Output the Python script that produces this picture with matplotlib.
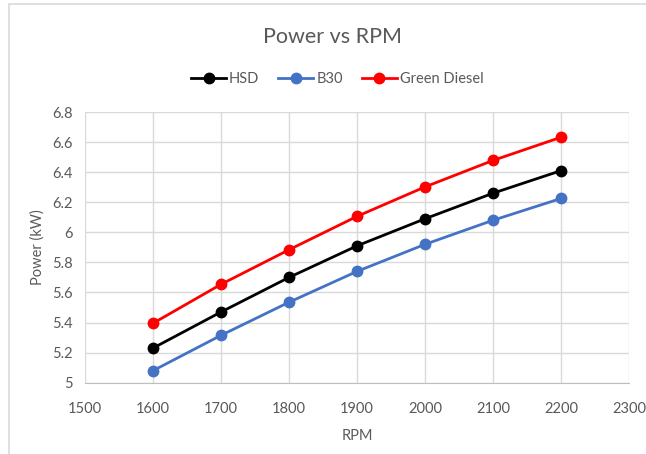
import matplotlib.pyplot as plt
from matplotlib.patches import Rectangle
from matplotlib.ticker import FuncFormatter

plt.rcParams['font.family'] = ['Lato', 'DejaVu Sans']

rpm = [1600, 1700, 1800, 1900, 2000, 2100, 2200]
hsd = [5.23, 5.47, 5.70, 5.91, 6.09, 6.26, 6.41]
b30 = [5.08, 5.315, 5.535, 5.74, 5.92, 6.08, 6.225]
green_diesel = [5.395, 5.654, 5.884, 6.106, 6.302, 6.478, 6.632]

series = [('HSD', hsd, '#000000'),
          ('B30', b30, '#4472C4'),
          ('Green Diesel', green_diesel, '#FF0000')]

grey = '#595959'

fig = plt.figure(figsize=(6.46, 4.54), dpi=100)
# chart area border
fig.patches.append(Rectangle((9 / 646, -0.1), 1.2, 1 - 4 / 454 + 0.1,
                             transform=fig.transFigure, fill=False,
                             edgecolor='#d9d9d9', lw=1.2))

ax = fig.add_axes([85 / 646, 1 - 382.7 / 454, (629 - 85) / 646, (382.7 - 112) / 454])

for name, vals, col in series:
    ax.plot(rpm, vals, color=col, lw=2, marker='o', markersize=7.5, label=name)

ax.set_xlim(1500, 2300)
ax.set_ylim(5, 6.8)
ax.set_xticks(range(1500, 2301, 100))
ax.set_yticks([5 + 0.2 * i for i in range(10)])
ax.yaxis.set_major_formatter(FuncFormatter(lambda v, p: '{:g}'.format(round(v, 1))))

ax.grid(True, color='#d9d9d9', lw=1)
ax.set_axisbelow(True)
for s in ['top', 'right', 'left']:
    ax.spines[s].set_visible(False)
ax.spines['bottom'].set_color('#bfbfbf')
ax.tick_params(length=0, labelsize=10.5, colors=grey)
ax.tick_params(axis='x', pad=14)
ax.tick_params(axis='y', pad=9)

ax.set_xlabel('RPM', fontsize=10.5, color=grey, labelpad=9)
ax.set_ylabel('Power (kW)', fontsize=10.5, color=grey, labelpad=5)

fig.text(0.515, 1 - 37 / 454, 'Power vs RPM', ha='center', va='center',
         fontsize=15.5, color=grey)

fig.legend(loc='center', bbox_to_anchor=(0.522, 1 - 79 / 454), ncol=3,
           frameon=False, fontsize=10.5, handlelength=2.4, handletextpad=0.2,
           columnspacing=1.3, labelcolor=grey)

fig.savefig('out.png', dpi=100)
